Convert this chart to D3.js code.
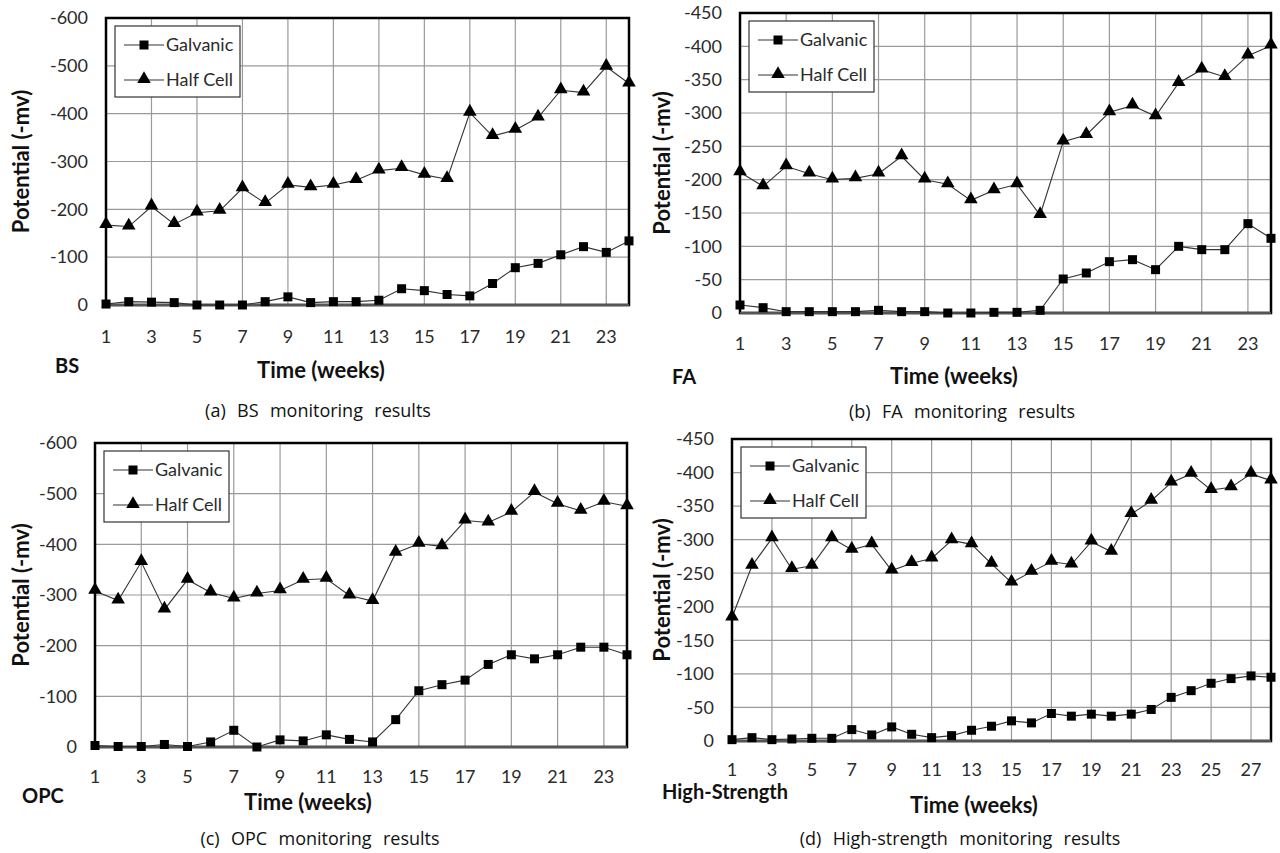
<!DOCTYPE html>
<html>
<head>
<meta charset="utf-8">
<script src="https://cdn.jsdelivr.net/npm/d3@7"></script>
<style>
  body { margin: 0; background: #fff; }
  svg { display: block; font-family: Lato, "Open Sans", sans-serif; }
</style>
</head>
<body>
<div id="chart"></div>
<script>
// weeks (categories)
const weeks24 = d3.range(1, 25);
const weeks28 = d3.range(1, 29);

// (a) BS
const bsGalvanic = [2, 7, 6, 5, 0, 0, 0, 7, 17, 5, 7, 7, 10, 34, 30, 22, 19, 45, 78, 87, 105, 122, 110, 134];
const bsHalfCell = [167, 164, 206, 169, 193, 197, 244, 213, 251, 246, 251, 261, 281, 286, 272, 263, 402, 353, 366, 392, 449, 444, 498, 463];

// (b) FA
const faGalvanic = [12, 8, 2, 2, 2, 2, 4, 2, 2, 0, 0, 1, 1, 4, 51, 60, 77, 80, 65, 100, 95, 95, 134, 112];
const faHalfCell = [211, 190, 220, 209, 200, 202, 209, 235, 200, 193, 169, 184, 193, 147, 257, 267, 301, 311, 295, 345, 365, 354, 386, 401];

// (c) OPC
const opcGalvanic = [3, 1, 1, 5, 1, 10, 33, 0, 14, 12, 24, 15, 10, 54, 111, 123, 132, 163, 182, 174, 182, 197, 197, 182];
const opcHalfCell = [308, 289, 365, 271, 330, 305, 293, 303, 309, 330, 332, 299, 288, 383, 401, 396, 447, 443, 464, 503, 480, 466, 484, 475];

// (d) High-Strength
const hsGalvanic = [2, 5, 2, 3, 4, 4, 17, 9, 21, 10, 5, 8, 16, 22, 30, 27, 41, 37, 40, 37, 40, 47, 65, 75, 86, 93, 97, 95];
const hsHalfCell = [184, 261, 302, 256, 261, 302, 285, 293, 254, 265, 272, 299, 293, 264, 236, 252, 267, 263, 297, 282, 338, 358, 385, 398, 374, 378, 398, 388];

const seriesNames = ["Galvanic", "Half Cell"];

const panels = [
  { weeks: weeks24, galvanic: bsGalvanic, half: bsHalfCell, yMax: 600, yStep: 100,
    left: 106, right: 629, top: 18, bottom: 305, tickY: 343,
    name: "BS", nameX: 55, nameY: 373, titleX: 321, titleY: 378, yTitleX: 21,
    caption: "(a)  BS  monitoring  results", capX: 318, capY: 417 },
  { weeks: weeks24, galvanic: faGalvanic, half: faHalfCell, yMax: 450, yStep: 50,
    left: 740, right: 1271, top: 13, bottom: 313, tickY: 350,
    name: "FA", nameX: 672, nameY: 384, titleX: 954, titleY: 384, yTitleX: 662,
    caption: "(b)  FA  monitoring  results", capX: 962, capY: 418 },
  { weeks: weeks24, galvanic: opcGalvanic, half: opcHalfCell, yMax: 600, yStep: 100,
    left: 95, right: 627, top: 443, bottom: 747, tickY: 783,
    name: "OPC", nameX: 22, nameY: 803, titleX: 308, titleY: 810, yTitleX: 21,
    caption: "(c)  OPC  monitoring  results", capX: 320, capY: 845 },
  { weeks: weeks28, galvanic: hsGalvanic, half: hsHalfCell, yMax: 450, yStep: 50,
    left: 732, right: 1271, top: 439, bottom: 741, tickY: 776,
    name: "High-Strength", nameX: 662, nameY: 799, titleX: 974, titleY: 813, yTitleX: 662,
    caption: "(d)  High-strength  monitoring  results", capX: 960, capY: 845 }
];

const svg = d3.select("#chart").append("svg")
  .attr("width", 1280)
  .attr("height", 853);

const squareSym = d3.symbol().type(d3.symbolSquare).size(81);
const triSym = d3.symbol().type(d3.symbolTriangle).size(80);

function drawPanel(p) {
  const g = svg.append("g");
  const n = p.weeks.length;

  const x = d3.scaleLinear().domain([1, n]).range([p.left, p.right]);
  const y = d3.scaleLinear().domain([0, p.yMax]).range([p.bottom, p.top]);

  const yTicks = d3.range(0, p.yMax + 1, p.yStep);
  const xTicks = p.weeks.filter(w => w % 2 === 1 && w < n);

  // grid
  g.append("g").selectAll("line.h")
    .data(yTicks.filter(v => v > 0))
    .join("line")
    .attr("x1", p.left).attr("x2", p.right)
    .attr("y1", d => y(d)).attr("y2", d => y(d))
    .attr("stroke", "#9a9a9a").attr("stroke-width", 1.2);

  g.append("g").selectAll("line.v")
    .data(xTicks.filter(w => w > 1))
    .join("line")
    .attr("x1", d => x(d)).attr("x2", d => x(d))
    .attr("y1", p.top).attr("y2", p.bottom)
    .attr("stroke", "#9a9a9a").attr("stroke-width", 1.2);

  // plot frame
  g.append("rect")
    .attr("x", p.left).attr("y", p.top)
    .attr("width", p.right - p.left).attr("height", p.bottom - p.top)
    .attr("fill", "none").attr("stroke", "#000").attr("stroke-width", 2.5);
  g.append("line")
    .attr("x1", p.left).attr("x2", p.right)
    .attr("y1", p.bottom).attr("y2", p.bottom)
    .attr("stroke", "#555").attr("stroke-width", 2.5);

  // y tick labels
  g.append("g").selectAll("text")
    .data(yTicks)
    .join("text")
    .attr("x", p.left - 18)
    .attr("y", d => y(d))
    .attr("dy", "0.35em")
    .attr("text-anchor", "end")
    .attr("font-size", 18)
    .attr("fill", "#2b2b2b")
    .text(d => d === 0 ? "0" : "-" + d);

  // x tick labels
  g.append("g").selectAll("text")
    .data(xTicks)
    .join("text")
    .attr("x", d => x(d))
    .attr("y", p.tickY)
    .attr("text-anchor", "middle")
    .attr("font-size", 18)
    .attr("fill", "#2b2b2b")
    .text(d => d);

  // lines
  const line = d3.line().x((d, i) => x(p.weeks[i])).y(d => y(d));
  g.append("path").datum(p.half)
    .attr("d", line).attr("fill", "none").attr("stroke", "#333").attr("stroke-width", 1.1);
  g.append("path").datum(p.galvanic)
    .attr("d", line).attr("fill", "none").attr("stroke", "#333").attr("stroke-width", 1.1);

  // markers
  g.append("g").selectAll("path")
    .data(p.half)
    .join("path")
    .attr("d", triSym)
    .attr("transform", (d, i) => "translate(" + x(p.weeks[i]) + "," + (y(d) - 1) + ")")
    .attr("fill", "#000");
  g.append("g").selectAll("path")
    .data(p.galvanic)
    .join("path")
    .attr("d", squareSym)
    .attr("transform", (d, i) => "translate(" + x(p.weeks[i]) + "," + y(d) + ")")
    .attr("fill", "#000");

  // legend
  const lg = g.append("g").attr("transform", "translate(" + (p.left + 9) + "," + (p.top + 8) + ")");
  lg.append("rect")
    .attr("width", 125).attr("height", 71)
    .attr("fill", "#fff").attr("stroke", "#333").attr("stroke-width", 1.2);
  seriesNames.forEach((name, i) => {
    const cy = 19 + i * 35;
    lg.append("line")
      .attr("x1", 9).attr("x2", 49).attr("y1", cy).attr("y2", cy)
      .attr("stroke", "#333").attr("stroke-width", 1.1);
    lg.append("path")
      .attr("d", i === 0 ? squareSym : triSym)
      .attr("transform", "translate(29," + (i === 0 ? cy : cy - 1) + ")")
      .attr("fill", "#000");
    lg.append("text")
      .attr("x", 51).attr("y", cy).attr("dy", "0.35em")
      .attr("font-size", 18).attr("fill", "#2b2b2b")
      .text(name);
  });

  // axis titles
  g.append("text")
    .attr("transform", "translate(" + p.yTitleX + "," + ((p.top + p.bottom) / 2) + ") rotate(-90)")
    .attr("text-anchor", "middle").attr("dy", "0.35em")
    .attr("font-size", 22).attr("font-weight", "bold").attr("fill", "#111")
    .text("Potential (-mv)");
  g.append("text")
    .attr("x", p.titleX).attr("y", p.titleY)
    .attr("text-anchor", "middle")
    .attr("font-size", 22).attr("font-weight", "bold").attr("fill", "#111")
    .text("Time (weeks)");
  g.append("text")
    .attr("x", p.nameX).attr("y", p.nameY)
    .attr("font-size", 20).attr("font-weight", "bold").attr("fill", "#111")
    .text(p.name);

  // caption
  g.append("text")
    .attr("x", p.capX).attr("y", p.capY)
    .attr("text-anchor", "middle")
    .attr("font-family", "'Open Sans', sans-serif")
    .attr("font-size", 18).attr("fill", "#111")
    .attr("word-spacing", 1)
    .style("white-space", "pre")
    .text(p.caption);
}

panels.forEach(drawPanel);
</script>
</body>
</html>
